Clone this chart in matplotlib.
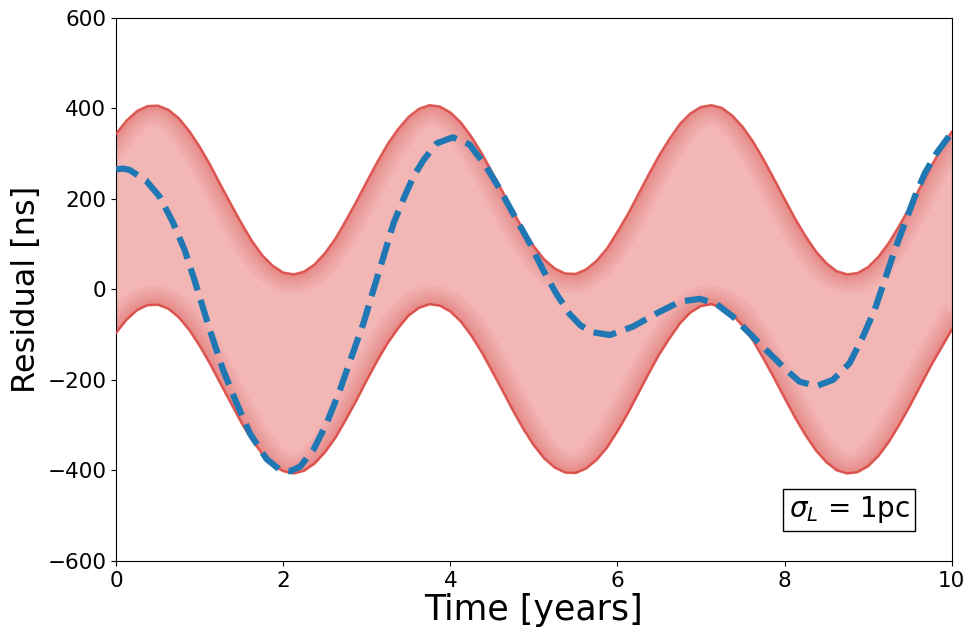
import matplotlib
matplotlib.use("Agg")
from matplotlib import pyplot as plt

# band of possible residuals, edges every 0.125 yr
band_t = [i * 0.125 for i in range(81)]
band_upper = [344, 373, 394, 405, 406, 397, 378, 350,
              315, 275, 231, 188, 146, 107, 75, 52,
              37, 33, 39, 55, 80, 112, 152, 194,
              238, 281, 321, 354, 381, 399, 407, 404,
              391, 369, 338, 301, 259, 216, 172, 131,
              95, 66, 46, 35, 34, 44, 63, 90,
              127, 166, 210, 254, 296, 333, 366, 389,
              403, 407, 401, 384, 359, 326, 287, 244,
              200, 157, 118, 84, 58, 40, 33, 36,
              49, 72, 103, 141, 182, 226, 270, 311,
              348]
band_lower = [-96, -67, -46, -35, -34, -43, -62, -90,
              -125, -165, -209, -252, -295, -333, -364, -388,
              -402, -407, -401, -385, -360, -328, -288, -246,
              -201, -158, -119, -86, -58, -41, -33, -36,
              -49, -71, -102, -139, -181, -224, -268, -309,
              -345, -374, -394, -405, -406, -396, -377, -350,
              -314, -274, -230, -186, -144, -108, -75, -51,
              -37, -33, -40, -56, -81, -114, -154, -196,
              -240, -283, -322, -356, -382, -400, -407, -404,
              -391, -368, -337, -299, -258, -214, -170, -130,
              -90]

# the highlighted residual (blue dashed)
true_t = [0.0, 0.08, 0.16, 0.36, 0.52, 0.68, 0.82, 0.93, 1.12, 1.28,
          1.44, 1.60, 1.80, 1.96, 2.08, 2.20, 2.36, 2.52, 2.68, 2.82,
          2.96, 3.08, 3.20, 3.32, 3.44, 3.56, 3.68, 3.84, 4.03, 4.23,
          4.43, 4.59, 4.75, 4.95, 5.11, 5.27, 5.43, 5.56, 5.71, 5.91,
          6.19, 6.47, 6.75, 6.99, 7.19, 7.38, 7.58, 7.78, 8.02, 8.18,
          8.38, 8.58, 8.78, 8.94, 9.08, 9.20, 9.32, 9.44, 9.56, 9.68,
          9.82, 10.0]
true_res = [265, 267, 264, 240, 205, 148, 87, 25, -89, -178,
            -251, -318, -375, -399, -402, -392, -355, -296, -222, -148,
            -75, -1, 72, 146, 200, 250, 286, 323, 336, 320,
            271, 222, 168, 102, 43, -10, -55, -80, -95, -101,
            -82, -53, -27, -21, -33, -60, -97, -134, -178, -204,
            -214, -200, -163, -104, -45, 21, 87, 146, 205, 257,
            301, 346]

label = r"$\sigma_L$ = 1pc"


def main():
    fig = plt.figure(figsize=(9.76, 6.38), dpi=100)
    ax = fig.add_axes([0.119, 0.121, 0.856, 0.851])

    red = "#d9443f"
    poly = ax.fill_between(band_t, band_lower, band_upper,
                           color="#f2b6b5", linewidth=0, zorder=1)
    clip = poly.get_paths()[0]

    # darker shading near the edges, kept inside the band
    for lw in [28, 23, 18, 14, 10, 7, 4]:
        for edge in (band_upper, band_lower):
            ln, = ax.plot(band_t, edge, color=red, lw=lw, alpha=0.06,
                          solid_capstyle="projecting", zorder=2)
            ln.set_clip_path(clip, ax.transData)

    ax.plot(band_t, band_upper, color=red, lw=1.8, alpha=0.85, zorder=3)
    ax.plot(band_t, band_lower, color=red, lw=1.8, alpha=0.85, zorder=3)

    ax.plot(true_t, true_res, "--", color="#1f77b4", lw=4.5, zorder=4)

    ax.set_xlim(0, 10)
    ax.set_ylim(-600, 600)
    ax.set_xticks([0, 2, 4, 6, 8, 10])
    ax.set_yticks([-600, -400, -200, 0, 200, 400, 600])
    ax.tick_params(labelsize=15.5)
    ax.set_xlabel("Time [years]", fontsize=25, labelpad=2)
    ax.set_ylabel("Residual [ns]", fontsize=23)

    ax.text(8.05, -487, label, fontsize=20, ha="left", va="center",
            bbox=dict(facecolor="white", edgecolor="black"), zorder=5)

    fig.savefig("out.png", dpi=100)


if __name__ == "__main__":
    main()
